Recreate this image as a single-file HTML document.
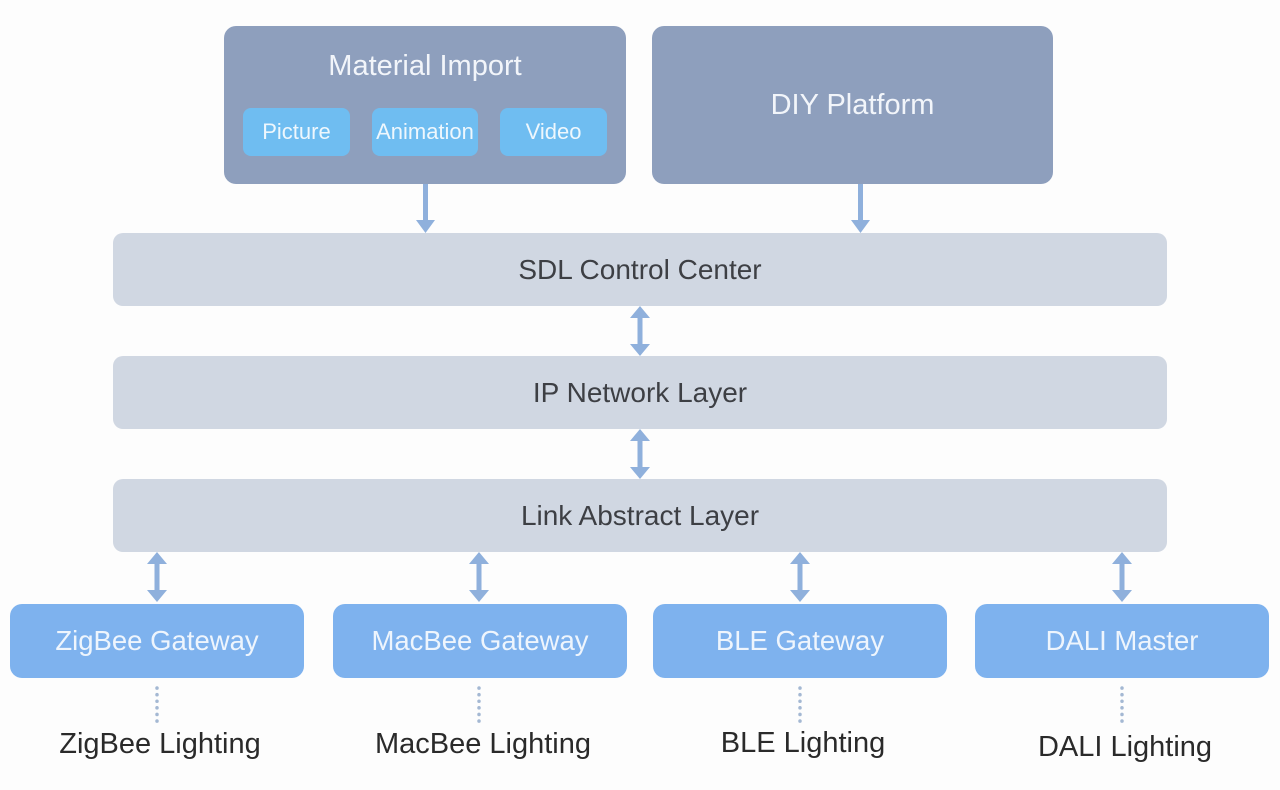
<!DOCTYPE html>
<html><head><style>
body{margin:0;width:1280px;height:790px;background:#fdfdfd;position:relative;overflow:hidden;font-family:"Liberation Sans","DejaVu Sans",sans-serif}
.b{position:absolute;display:flex;align-items:center;justify-content:center;border-radius:12px;box-sizing:border-box;white-space:nowrap}
.top{background:#8e9fbd;color:#f2f5fa;font-size:29px}
.sub{background:#6fbdf1;color:#eef7fd;font-size:22px;border-radius:8px}
.layer{background:#d0d7e2;color:#3d3f44;font-size:28px;border-radius:10px}
.gw{background:#7eb2ee;color:#eef5fd;font-size:27.5px}
.lab{position:absolute;color:#2a2a2a;font-size:29px;text-align:center;width:300px;white-space:nowrap}
svg{position:absolute;left:0;top:0}
</style></head><body>
<div class="b top" style="left:224px;top:26px;width:402px;height:158px;align-items:flex-start;padding-top:24px">Material Import</div>
<div class="b sub" style="left:243px;top:108px;width:107px;height:48px">Picture</div>
<div class="b sub" style="left:372px;top:108px;width:106px;height:48px">Animation</div>
<div class="b sub" style="left:500px;top:108px;width:107px;height:48px">Video</div>
<div class="b top" style="left:652px;top:26px;width:401px;height:158px">DIY Platform</div>
<div class="b layer" style="left:113px;top:233px;width:1054px;height:73px">SDL Control Center</div>
<div class="b layer" style="left:113px;top:356px;width:1054px;height:73px">IP Network Layer</div>
<div class="b layer" style="left:113px;top:479px;width:1054px;height:73px">Link Abstract Layer</div>
<div class="b gw" style="left:10px;top:604px;width:294px;height:74px">ZigBee Gateway</div>
<div class="b gw" style="left:333px;top:604px;width:294px;height:74px">MacBee Gateway</div>
<div class="b gw" style="left:653px;top:604px;width:294px;height:74px">BLE Gateway</div>
<div class="b gw" style="left:975px;top:604px;width:294px;height:74px">DALI Master</div>
<div class="lab" style="left:10px;top:728px">ZigBee Lighting</div>
<div class="lab" style="left:333px;top:728px">MacBee Lighting</div>
<div class="lab" style="left:653px;top:727px">BLE Lighting</div>
<div class="lab" style="left:975px;top:731px">DALI Lighting</div>
<svg width="1280" height="790">
<g fill="#8fb0dc" stroke="none">
<rect x="423" y="184" width="5" height="38"/><polygon points="416,220 435,220 425.5,233"/>
<rect x="858" y="184" width="5" height="38"/><polygon points="851,220 870,220 860.5,233"/>
<g id="d"><rect x="637.5" y="316" width="5" height="30"/><polygon points="630,318 650,318 640,306"/><polygon points="630,344 650,344 640,356"/></g>
<use href="#d" transform="translate(0,123)"/>
<use href="#d" transform="translate(-483,246)"/>
<use href="#d" transform="translate(-161,246)"/>
<use href="#d" transform="translate(160,246)"/>
<use href="#d" transform="translate(482,246)"/>
</g>
<g stroke="#a4b8d3" stroke-width="3.5" stroke-dasharray="0.1,6.5" stroke-linecap="round">
<line x1="157" y1="688" x2="157" y2="722"/>
<line x1="479" y1="688" x2="479" y2="722"/>
<line x1="800" y1="688" x2="800" y2="722"/>
<line x1="1122" y1="688" x2="1122" y2="722"/>
</g>
</svg>
</body></html>
